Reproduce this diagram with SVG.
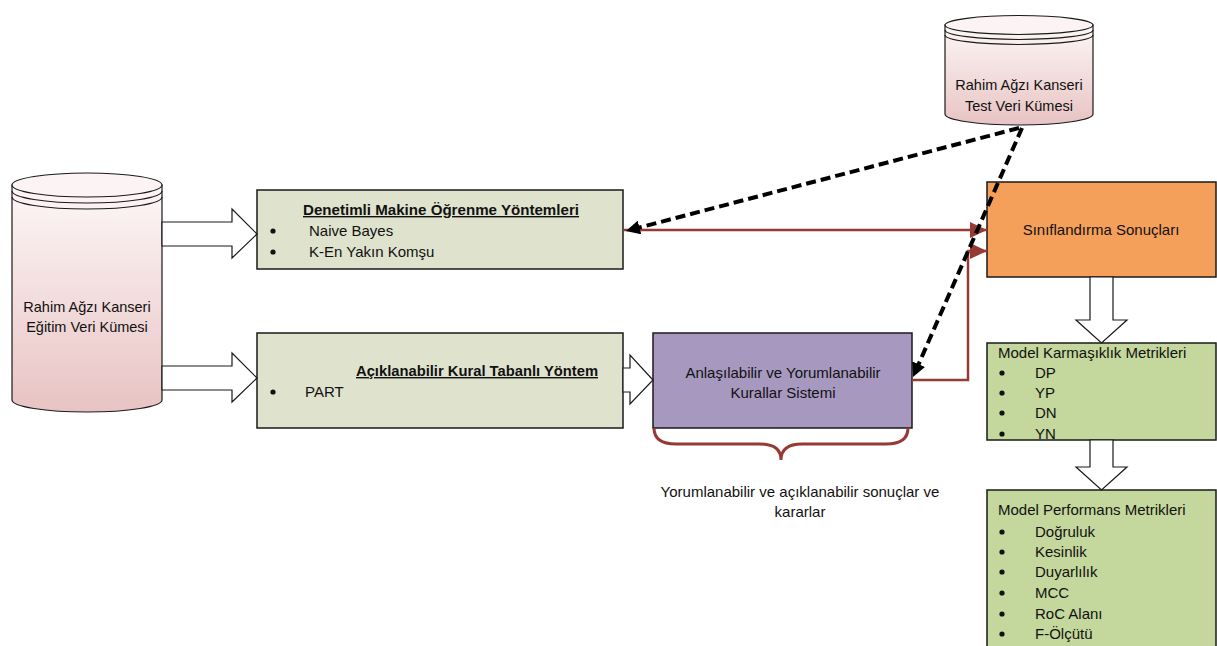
<svg xmlns="http://www.w3.org/2000/svg" width="1217" height="646" viewBox="0 0 1217 646">
<style>
.t{font-family:"Liberation Sans",Arial,sans-serif;font-size:15px;fill:#111111}
.s{font-size:14.5px}
.c{text-anchor:middle}
.b{font-weight:bold;text-decoration:underline;font-size:14px}
.box{stroke:#1a1a1a;stroke-width:1.5}
.cyl{stroke:#1a1a1a;stroke-width:1.2}
.blk{fill:#ffffff;stroke:#1a1a1a;stroke-width:1.2;stroke-linejoin:miter}
.red{fill:none;stroke:#963a34;stroke-width:2.5}
.dash{fill:none;stroke:#000;stroke-width:4;stroke-dasharray:10 5}
</style>
<defs>
<linearGradient id="pink" x1="0" y1="0" x2="0" y2="1">
<stop offset="0" stop-color="#fdf7f7"/>
<stop offset="1" stop-color="#e8c3c3"/>
</linearGradient>
<marker id="ab" markerUnits="userSpaceOnUse" markerWidth="16" markerHeight="14" refX="6" refY="7" orient="auto">
<path d="M0,0 L14,7 L0,14 z" fill="#000"/>
</marker>
<marker id="ar" markerUnits="userSpaceOnUse" markerWidth="18" markerHeight="18" refX="17" refY="8" orient="auto">
<path d="M0,0 L17,8 L0,16 z" fill="#963a34"/>
</marker>
</defs>

<g id="train-db">
<path class="cyl" fill="url(#pink)" d="M12,185 L12,400 A75,12 0 0 0 162,400 L162,185 Z"/>
<ellipse class="cyl" cx="87" cy="185" rx="75" ry="12" fill="#fcf4f4"/>
<path class="cyl" fill="none" d="M12,191 A75,12 0 0 0 162,191 M12,197 A75,12 0 0 0 162,197"/>
<text class="t s c" x="87" y="312">Rahim Ağzı Kanseri</text>
<text class="t s c" x="87" y="332">Eğitim Veri Kümesi</text>
</g>

<g id="test-db">
<path class="cyl" fill="url(#pink)" d="M945,25 L945,114 A74,11 0 0 0 1093,114 L1093,25 Z"/>
<ellipse class="cyl" cx="1019" cy="25" rx="74" ry="9.5" fill="#fcf4f4"/>
<path class="cyl" fill="none" d="M945,30 A74,9.5 0 0 0 1093,30 M945,35 A74,9.5 0 0 0 1093,35"/>
<text class="t s c" x="1019" y="90">Rahim Ağzı Kanseri</text>
<text class="t s c" x="1019" y="111">Test Veri Kümesi</text>
</g>

<g id="box-supervised">
<rect class="box" x="257" y="190" width="366" height="79" fill="#dfe3cd"/>
<text class="t b c" x="441" y="215" textLength="276" lengthAdjust="spacingAndGlyphs">Denetimli Makine Öğrenme Yöntemleri</text>
<circle cx="273" cy="231" r="2.6" fill="#111"/>
<text class="t" x="309" y="236">Naive Bayes</text>
<circle cx="273" cy="252" r="2.6" fill="#111"/>
<text class="t" x="309" y="257">K-En Yakın Komşu</text>
</g>

<g id="box-rule">
<rect class="box" x="257" y="333" width="366" height="95" fill="#dfe3cd"/>
<text class="t b c" x="477" y="376" textLength="242" lengthAdjust="spacingAndGlyphs">Açıklanabilir Kural Tabanlı Yöntem</text>
<circle cx="273" cy="392" r="2.6" fill="#111"/>
<text class="t" x="305" y="397">PART</text>
</g>

<g id="box-rules-system">
<rect class="box" x="653" y="333" width="259" height="95" fill="#a798c0"/>
<text class="t c" x="783" y="378">Anlaşılabilir ve Yorumlanabilir</text>
<text class="t c" x="783" y="398">Kurallar Sistemi</text>
</g>

<g id="brace-note">
<path d="M654,428 Q654,444 676,444 L760,444 Q781,444 781,460 Q781,444 802,444 L886,444 Q908,444 908,428" fill="none" stroke="#963a34" stroke-width="3"/>
<text class="t c" x="800" y="497">Yorumlanabilir ve açıklanabilir sonuçlar ve</text>
<text class="t c" x="800" y="517">kararlar</text>
</g>

<g id="box-results">
<rect class="box" x="987" y="182" width="229" height="95" fill="#f5a05a"/>
<text class="t c" x="1101" y="235">Sınıflandırma Sonuçları</text>
</g>

<g id="box-complexity">
<rect class="box" x="987" y="343" width="229" height="97" fill="#c4d79c"/>
<text class="t" x="998" y="358">Model Karmaşıklık Metrikleri</text>
<circle cx="1002" cy="373" r="2.6" fill="#111"/><text class="t" x="1035" y="378">DP</text>
<circle cx="1002" cy="393" r="2.6" fill="#111"/><text class="t" x="1035" y="398">YP</text>
<circle cx="1002" cy="413" r="2.6" fill="#111"/><text class="t" x="1035" y="418">DN</text>
<circle cx="1002" cy="434" r="2.6" fill="#111"/><text class="t" x="1035" y="439">YN</text>
</g>

<g id="box-performance">
<rect class="box" x="987" y="490" width="229" height="160" fill="#c4d79c"/>
<text class="t" x="998" y="515">Model Performans Metrikleri</text>
<circle cx="1002" cy="532" r="2.6" fill="#111"/><text class="t" x="1035" y="537">Doğruluk</text>
<circle cx="1002" cy="552" r="2.6" fill="#111"/><text class="t" x="1035" y="557">Kesinlik</text>
<circle cx="1002" cy="572" r="2.6" fill="#111"/><text class="t" x="1035" y="577">Duyarlılık</text>
<circle cx="1002" cy="593" r="2.6" fill="#111"/><text class="t" x="1035" y="598">MCC</text>
<circle cx="1002" cy="614" r="2.6" fill="#111"/><text class="t" x="1035" y="619">RoC Alanı</text>
<circle cx="1002" cy="634" r="2.6" fill="#111"/><text class="t" x="1035" y="639">F-Ölçütü</text>
</g>

<g id="connectors">
<polygon class="blk" points="162,222 232,222 232,209 257,234 232,258 232,246 162,246"/>
<polygon class="blk" points="162,366 232,366 232,353 257,378 232,402 232,390 162,390"/>
<polygon class="blk" points="623,368 630,368 630,355 653,380 630,404 630,392 623,392"/>
<polygon class="blk" points="1090,277 1113,277 1113,320 1127,320 1101.5,343 1076,320 1090,320"/>
<polygon class="blk" points="1090,440 1113,440 1113,467 1127,467 1101.5,490 1076,467 1090,467"/>
<path class="red" d="M623,230 L987,230" marker-end="url(#ar)"/>
<path class="red" d="M912,380 L968,380 L968,251 L987,251" marker-end="url(#ar)"/>
<path class="dash" d="M1019,128 L633.7,229" marker-end="url(#ab)"/>
<path class="dash" d="M1022,128 L916.2,369.7" marker-end="url(#ab)"/>
</g>
</svg>
